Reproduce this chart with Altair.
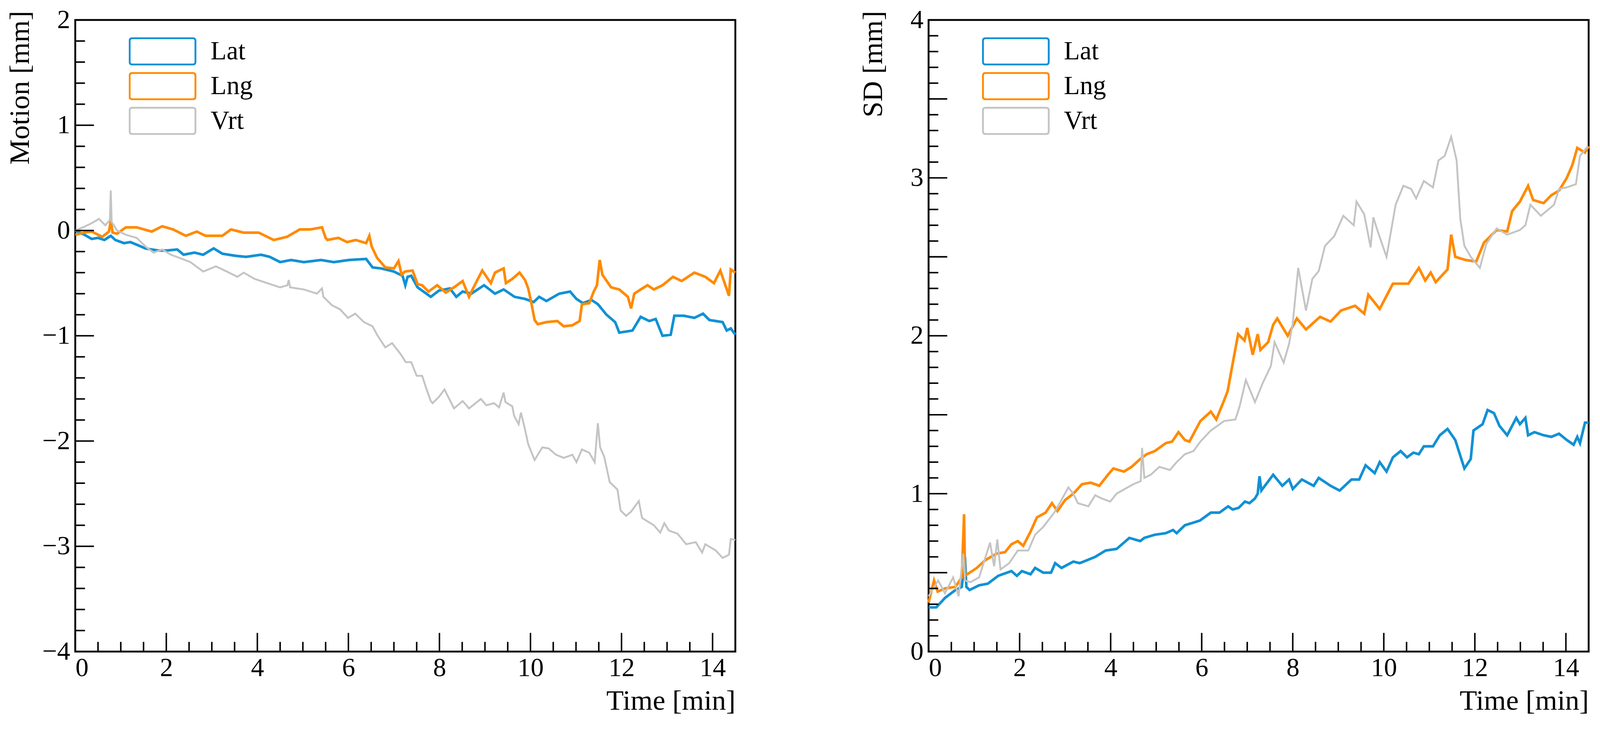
import altair as alt
import pandas as pd

SERIES = ["Lat", "Lng", "Vrt"]
COLORS = ["#1191d4", "#ff8a00", "#c4c4c4"]

# ---------------- Motion panel (left) ----------------
mot_lat_t = [0, 0.2, 0.36, 0.5, 0.64, 0.78, 0.88, 1.07, 1.21, 1.38, 1.54, 1.82, 2.01, 2.24, 2.38, 2.62, 2.81,
             3.04, 3.23, 3.52, 3.75, 4.08, 4.27, 4.5, 4.74, 5.02, 5.4, 5.68, 6.01, 6.39, 6.53, 6.72, 7.0, 7.19,
             7.25, 7.3, 7.38, 7.52, 7.81, 7.99, 8.23, 8.37, 8.51, 8.7, 8.98, 9.22, 9.41, 9.65, 9.88, 10.07, 10.19,
             10.35, 10.63, 10.87, 11.01, 11.15, 11.34, 11.48, 11.67, 11.86, 11.95, 12.24, 12.42, 12.61, 12.75,
             12.9, 13.08, 13.16, 13.37, 13.6, 13.79, 13.93, 14.22, 14.31, 14.4, 14.5]
mot_lat_v = [0, -0.04, -0.08, -0.07, -0.09, -0.05, -0.09, -0.12, -0.11, -0.14, -0.17, -0.19, -0.19, -0.18, -0.23,
             -0.21, -0.23, -0.17, -0.22, -0.24, -0.25, -0.23, -0.25, -0.3, -0.28, -0.3, -0.28, -0.3, -0.28, -0.27,
             -0.35, -0.36, -0.39, -0.43, -0.52, -0.44, -0.43, -0.54, -0.63, -0.57, -0.55, -0.63, -0.58, -0.6, -0.52,
             -0.6, -0.56, -0.63, -0.65, -0.68, -0.63, -0.67, -0.6, -0.58, -0.65, -0.69, -0.66, -0.7, -0.8, -0.87,
             -0.97, -0.95, -0.82, -0.86, -0.84, -1.0, -0.99, -0.81, -0.81, -0.83, -0.79, -0.85, -0.87, -0.95,
             -0.93, -0.99]

mot_lng_t = [0, 0.2, 0.36, 0.59, 0.74, 0.78, 0.82, 0.92, 1.11, 1.35, 1.68, 1.91, 2.15, 2.43, 2.67, 2.86, 3.23,
             3.42, 3.7, 4.03, 4.36, 4.65, 4.93, 5.16, 5.42, 5.5, 5.54, 5.78, 5.97, 6.16, 6.39, 6.46, 6.51, 6.63,
             6.81, 7.0, 7.1, 7.17, 7.24, 7.41, 7.52, 7.62, 7.76, 7.95, 8.14, 8.32, 8.51, 8.65, 8.75, 8.94, 9.13,
             9.22, 9.41, 9.46, 9.6, 9.76, 9.88, 9.95, 10.02, 10.09, 10.16, 10.35, 10.59, 10.73, 10.92, 11.08,
             11.13, 11.29, 11.39, 11.46, 11.52, 11.58, 11.77, 11.95, 12.14, 12.21, 12.28, 12.42, 12.57, 12.71,
             12.9, 13.13, 13.32, 13.6, 13.84, 14.03, 14.17, 14.36, 14.4, 14.5]
mot_lng_v = [-0.04, -0.02, -0.01, -0.06, -0.01, 0.09, -0.02, -0.03, 0.03, 0.03, -0.01, 0.04, 0.01, -0.05, -0.01,
             -0.05, -0.05, 0.01, -0.02, -0.02, -0.09, -0.06, 0.01, 0.01, 0.03, -0.07, -0.09, -0.07, -0.11, -0.09,
             -0.12, -0.05, -0.15, -0.26, -0.35, -0.36, -0.29, -0.42, -0.39, -0.38, -0.51, -0.52, -0.58, -0.52,
             -0.59, -0.54, -0.48, -0.63, -0.54, -0.38, -0.5, -0.4, -0.36, -0.5, -0.46, -0.4, -0.47, -0.55, -0.69,
             -0.85, -0.89, -0.87, -0.86, -0.91, -0.9, -0.86, -0.7, -0.69, -0.58, -0.52, -0.28, -0.42, -0.54, -0.56,
             -0.63, -0.74, -0.6, -0.56, -0.52, -0.56, -0.52, -0.44, -0.48, -0.4, -0.44, -0.5, -0.38, -0.62, -0.37,
             -0.4]

mot_vrt_t = [0, 0.17, 0.36, 0.52, 0.66, 0.76, 0.78, 0.8, 0.92, 1.11, 1.35, 1.54, 1.72, 1.91, 2.1, 2.29, 2.53,
             2.81, 3.09, 3.33, 3.56, 3.7, 3.94, 4.22, 4.5, 4.66, 4.69, 4.72, 5.02, 5.31, 5.42, 5.45, 5.64, 5.82,
             5.99, 6.15, 6.34, 6.53, 6.63, 6.81, 6.96, 7.14, 7.26, 7.38, 7.5, 7.62, 7.71, 7.81, 7.85, 7.99, 8.11,
             8.18, 8.32, 8.51, 8.65, 8.91, 9.03, 9.2, 9.31, 9.41, 9.45, 9.6, 9.64, 9.74, 9.79, 9.88, 9.95, 10.09,
             10.26, 10.4, 10.56, 10.73, 10.92, 11.01, 11.13, 11.29, 11.41, 11.48, 11.53, 11.62, 11.74, 11.91,
             11.98, 12.1, 12.21, 12.38, 12.45, 12.71, 12.85, 12.94, 13.04, 13.23, 13.42, 13.63, 13.77, 13.84,
             14.07, 14.22, 14.36, 14.4, 14.5]
mot_vrt_v = [0, 0.03, 0.07, 0.11, 0.05, 0.1, 0.38, 0.08, 0, -0.04, -0.07, -0.15, -0.21, -0.18, -0.23, -0.26, -0.3,
             -0.39, -0.34, -0.39, -0.44, -0.4, -0.46, -0.5, -0.54, -0.52, -0.47, -0.54, -0.56, -0.6, -0.55, -0.63,
             -0.71, -0.75, -0.83, -0.79, -0.87, -0.91, -0.99, -1.11, -1.07, -1.17, -1.25, -1.25, -1.38, -1.38,
             -1.5, -1.62, -1.64, -1.58, -1.51, -1.57, -1.69, -1.62, -1.69, -1.6, -1.66, -1.64, -1.68, -1.54, -1.63,
             -1.67, -1.76, -1.84, -1.73, -1.89, -2.03, -2.18, -2.06, -2.07, -2.13, -2.16, -2.13, -2.2, -2.08,
             -2.11, -2.2, -1.83, -2.06, -2.15, -2.39, -2.46, -2.66, -2.71, -2.67, -2.57, -2.73, -2.8, -2.87, -2.78,
             -2.85, -2.88, -2.98, -2.96, -3.06, -2.98, -3.04, -3.11, -3.08, -2.93, -2.94]

# ---------------- SD panel (right) ----------------
sd_lat_t = [0, 0.17, 0.36, 0.59, 0.73, 0.8, 0.83, 0.9, 1.11, 1.3, 1.53, 1.82, 1.94, 2.05, 2.24, 2.34, 2.52, 2.69,
            2.78, 2.92, 3.18, 3.32, 3.66, 3.89, 4.13, 4.41, 4.65, 4.74, 4.97, 5.21, 5.37, 5.45, 5.63, 5.96, 6.2,
            6.39, 6.58, 6.68, 6.81, 6.95, 7.05, 7.17, 7.23, 7.27, 7.31, 7.57, 7.77, 7.92, 8.0, 8.2, 8.46, 8.57,
            8.83, 9.03, 9.29, 9.46, 9.6, 9.8, 9.91, 10.06, 10.2, 10.37, 10.51, 10.65, 10.77, 10.88, 11.08, 11.23,
            11.4, 11.57, 11.77, 11.91, 11.97, 12.17, 12.28, 12.42, 12.54, 12.71, 12.91, 12.99, 13.11, 13.17,
            13.31, 13.51, 13.68, 13.85, 14.02, 14.17, 14.25, 14.31, 14.42, 14.5]
sd_lat_v = [0.28, 0.28, 0.34, 0.39, 0.41, 0.6, 0.41, 0.39, 0.42, 0.43, 0.48, 0.51, 0.48, 0.51, 0.49, 0.53, 0.5, 0.5,
            0.56, 0.53, 0.57, 0.56, 0.6, 0.64, 0.65, 0.72, 0.7, 0.72, 0.74, 0.75, 0.77, 0.75, 0.8, 0.83, 0.88,
            0.88, 0.92, 0.9, 0.91, 0.95, 0.94, 0.97, 1.0, 1.11, 1.02, 1.12, 1.05, 1.09, 1.03, 1.09, 1.05, 1.1,
            1.05, 1.02, 1.09, 1.09, 1.18, 1.13, 1.2, 1.14, 1.23, 1.27, 1.23, 1.26, 1.25, 1.3, 1.3, 1.37, 1.41,
            1.34, 1.16, 1.22, 1.4, 1.44, 1.53, 1.51, 1.43, 1.37, 1.48, 1.44, 1.48, 1.37, 1.39, 1.37, 1.36, 1.38,
            1.34, 1.31, 1.36, 1.32, 1.45, 1.45]

sd_lng_t = [0, 0.12, 0.2, 0.36, 0.59, 0.73, 0.78, 0.8, 1.06, 1.25, 1.49, 1.68, 1.82, 1.96, 2.08, 2.24, 2.38, 2.57,
            2.71, 2.83, 3.0, 3.18, 3.37, 3.56, 3.75, 3.94, 4.06, 4.29, 4.46, 4.65, 4.79, 4.97, 5.21, 5.35, 5.49,
            5.63, 5.73, 5.97, 6.2, 6.32, 6.49, 6.57, 6.69, 6.8, 6.94, 7.0, 7.12, 7.23, 7.29, 7.46, 7.57, 7.66,
            7.89, 8.09, 8.29, 8.6, 8.83, 9.06, 9.37, 9.57, 9.66, 9.91, 10.2, 10.54, 10.77, 10.91, 11.03, 11.14,
            11.4, 11.48, 11.57, 11.8, 12.03, 12.2, 12.48, 12.71, 12.82, 12.99, 13.17, 13.28, 13.51, 13.68, 13.85,
            14.02, 14.14, 14.25, 14.42, 14.5]
sd_lng_v = [0.31, 0.45, 0.38, 0.4, 0.41, 0.47, 0.87, 0.48, 0.53, 0.58, 0.62, 0.63, 0.68, 0.7, 0.67, 0.76, 0.85,
            0.88, 0.94, 0.89, 0.96, 1.0, 1.06, 1.07, 1.05, 1.12, 1.16, 1.14, 1.17, 1.22, 1.25, 1.27, 1.32, 1.33,
            1.39, 1.34, 1.33, 1.46, 1.52, 1.47, 1.59, 1.65, 1.84, 2.01, 1.97, 2.05, 1.88, 2.01, 1.91, 1.96, 2.07,
            2.11, 2.0, 2.11, 2.04, 2.12, 2.09, 2.16, 2.19, 2.14, 2.26, 2.17, 2.33, 2.33, 2.43, 2.35, 2.4, 2.34,
            2.42, 2.64, 2.5, 2.48, 2.47, 2.59, 2.67, 2.66, 2.79, 2.85, 2.95, 2.86, 2.84, 2.89, 2.92, 3.0, 3.08,
            3.19, 3.16, 3.2]

sd_vrt_t = [0, 0.21, 0.36, 0.54, 0.66, 0.76, 0.8, 0.92, 1.11, 1.35, 1.44, 1.51, 1.58, 1.77, 1.96, 2.19, 2.34,
            2.52, 2.76, 2.9, 3.07, 3.18, 3.28, 3.51, 3.66, 3.8, 3.99, 4.13, 4.31, 4.5, 4.66, 4.69, 4.74, 4.88,
            5.07, 5.3, 5.45, 5.63, 5.82, 5.97, 6.2, 6.49, 6.74, 6.83, 6.97, 7.17, 7.34, 7.52, 7.6, 7.8, 7.92, 8.0,
            8.12, 8.29, 8.43, 8.57, 8.71, 8.91, 9.11, 9.34, 9.4, 9.57, 9.71, 9.77, 9.88, 10.06, 10.26, 10.43,
            10.6, 10.71, 10.88, 11.08, 11.2, 11.34, 11.48, 11.6, 11.68, 11.77, 11.91, 12.11, 12.25, 12.48, 12.71,
            12.99, 13.11, 13.22, 13.45, 13.74, 13.85, 14.02, 14.22, 14.31, 14.48]
sd_vrt_v = [0.35, 0.45, 0.37, 0.47, 0.35, 0.62, 0.45, 0.44, 0.47, 0.69, 0.54, 0.71, 0.52, 0.56, 0.64, 0.64, 0.74,
            0.79, 0.88, 0.95, 1.04, 1.0, 0.94, 0.92, 0.99, 0.97, 0.95, 1.0, 1.03, 1.06, 1.08, 1.29, 1.1, 1.12,
            1.17, 1.15, 1.2, 1.25, 1.27, 1.33, 1.4, 1.46, 1.47, 1.55, 1.72, 1.58, 1.7, 1.81, 1.96, 1.83, 1.95,
            2.08, 2.43, 2.16, 2.36, 2.41, 2.57, 2.63, 2.76, 2.7, 2.85, 2.77, 2.56, 2.75, 2.65, 2.5, 2.83, 2.95,
            2.93, 2.87, 2.98, 2.94, 3.11, 3.14, 3.26, 3.11, 2.74, 2.57, 2.5, 2.43, 2.58, 2.68, 2.64, 2.67, 2.7,
            2.83, 2.76, 2.83, 2.93, 2.94, 2.96, 3.14, 3.2]

# axis tick values
x_major = [0, 2, 4, 6, 8, 10, 12, 14]
x_minor = [i * 0.5 for i in range(1, 29) if i % 4 != 0]
mot_labels = [-4, -3, -2, -1, 0, 1, 2]
mot_major = mot_labels
mot_minor = [round(-4 + 0.2 * i, 1) for i in range(1, 30) if i % 5 != 0]
sd_labels = [0, 1, 2, 3, 4]
sd_major = [0.5 * i for i in range(9)]
sd_minor = [round(0.1 * i, 1) for i in range(1, 40) if i % 5 != 0]

W, H = 1766, 1690
FONT = "Liberation Serif"
FS = 70
TFS = 76
BOX = ("M-0.92,-0.4 Q-1,-0.4 -1,-0.32 L-1,0.32 Q-1,0.4 -0.92,0.4 L0.92,0.4 "
       "Q1,0.4 1,0.32 L1,-0.32 Q1,-0.4 0.92,-0.4 Z")


def make_df(parts):
    rows = []
    for name, ts, vs in parts:
        for t, v in zip(ts, vs):
            rows.append({"series": name, "t": t, "v": v})
    return pd.DataFrame(rows)


def panel(df, ydom, ytitle, ylabels, ymajor, yminor):
    x = alt.X("t:Q", scale=alt.Scale(domain=[0, 14.5], nice=False, zero=False),
              axis=alt.Axis(title="Time [min]", values=x_major, format="d", grid=False, ticks=False,
                            tickSize=0, domain=False, labelFont=FONT, labelFontSize=FS, labelPadding=10,
                            labelColor="black", titleFont=FONT, titleFontSize=TFS, titleFontWeight="normal",
                            titleColor="black", titleAlign="right", titleBaseline="alphabetic",
                            titleX=W, titleY=155))
    y = alt.Y("v:Q", scale=alt.Scale(domain=ydom, nice=False, zero=False),
              axis=alt.Axis(title=ytitle, values=ylabels, format="d", grid=False, ticks=False,
                            tickSize=0, domain=False, labelFont=FONT, labelFontSize=FS, labelPadding=14,
                            labelColor="black", titleFont=FONT, titleFontSize=TFS, titleFontWeight="normal",
                            titleColor="black", titleAlign="right", titleBaseline="middle",
                            titleX=-148, titleY=-25))
    color = alt.Color("series:N", scale=alt.Scale(domain=SERIES, range=COLORS),
                      legend=alt.Legend(title=None, orient="none", legendX=143, legendY=46,
                                        symbolType=BOX, symbolSize=30976, symbolStrokeWidth=5,
                                        symbolFillColor="transparent", labelFont=FONT, labelFontSize=70,
                                        labelColor="black", labelOffset=38, rowPadding=17, padding=0,
                                        clipHeight=76))
    base = alt.Chart(df)
    thick = base.transform_filter(
        alt.FieldOneOfPredicate(field="series", oneOf=["Lat", "Lng"])
    ).mark_line(strokeWidth=7).encode(x=x, y=y, color=color)
    thin = base.transform_filter(
        alt.FieldEqualPredicate(field="series", equal="Vrt")
    ).mark_line(strokeWidth=5).encode(x=x, y=y, color=color)

    xt_major = alt.Chart(pd.DataFrame({"t": x_major})).mark_rule(color="black", strokeWidth=4).encode(
        x=x, y=alt.value(H), y2=alt.value(H - 50))
    xt_minor = alt.Chart(pd.DataFrame({"t": x_minor})).mark_rule(color="black", strokeWidth=4).encode(
        x=x, y=alt.value(H), y2=alt.value(H - 26))
    yt_major = alt.Chart(pd.DataFrame({"v": ymajor})).mark_rule(color="black", strokeWidth=4).encode(
        y=y, x=alt.value(0), x2=alt.value(50))
    yt_minor = alt.Chart(pd.DataFrame({"v": yminor})).mark_rule(color="black", strokeWidth=4).encode(
        y=y, x=alt.value(0), x2=alt.value(26))
    return alt.layer(thick, thin, xt_major, xt_minor, yt_major, yt_minor).properties(width=W, height=H)


motion_df = make_df([("Lat", mot_lat_t, mot_lat_v), ("Lng", mot_lng_t, mot_lng_v), ("Vrt", mot_vrt_t, mot_vrt_v)])
sd_df = make_df([("Lat", sd_lat_t, sd_lat_v), ("Lng", sd_lng_t, sd_lng_v), ("Vrt", sd_vrt_t, sd_vrt_v)])

left = panel(motion_df, [-4, 2], "Motion [mm]", mot_labels, mot_major, mot_minor)
right = panel(sd_df, [0, 4], "SD [mm]", sd_labels, sd_major, sd_minor)

chart = alt.hconcat(left, right, spacing=311).resolve_scale(color="independent").configure(
    font=FONT, view=alt.ViewConfig(stroke="black", strokeWidth=5)
).properties(
    padding={"left": 4, "top": -35, "right": 5, "bottom": 0}, background="white"
)

chart.save("out.html", embed_options={"renderer": "svg", "actions": False})
